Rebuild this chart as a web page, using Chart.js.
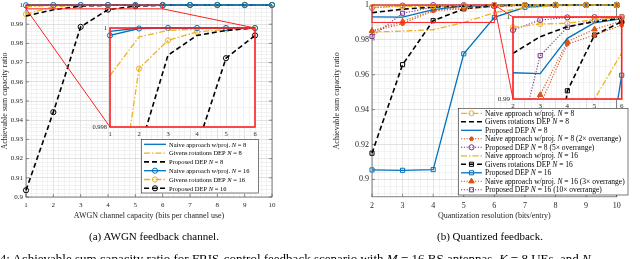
<!DOCTYPE html>
<html>
<head>
<meta charset="utf-8">
<script src="https://cdn.jsdelivr.net/npm/chart.js@4.4.1/dist/chart.umd.min.js"></script>
<style>
  body { margin: 0; background: #fff; }
  #page { position: relative; width: 640px; height: 259px; overflow: hidden; background: #fff;
          font-family: "Liberation Serif", "DejaVu Serif", serif; color: #000; }
  canvas { position: absolute; }
  .cap { position: absolute; font-size: 11px; line-height: 12px; white-space: nowrap; transform: translateX(-50%); }
  .fig { position: absolute; left: -24px; top: 252px; font-size: 13px; line-height: 13px; white-space: nowrap; }
</style>
</head>
<body>
<div id="page">
  <canvas id="mainA" width="290" height="259" style="left:0;top:0"></canvas>
  <canvas id="mainB" width="310" height="259" style="left:320px;top:0"></canvas>
  <canvas id="zoomA" width="185" height="125" style="left:80px;top:18px"></canvas>
  <canvas id="zoomB" width="150" height="110" style="left:480px;top:6px"></canvas>
  <div class="cap" style="left:154px;top:230px">(a) AWGN feedback channel.</div>
  <div class="cap" style="left:490px;top:230px">(b) Quantized feedback.</div>
  <div class="fig">Fig. 4: Achievable sum capacity ratio for FRIS-control feedback scenario with <i>M</i> = 16 BS antennas, <i>K</i> = 8 UEs, and <i>N</i></div>
</div>
<script>
// (a) AWGN feedback channel
const capA = [1, 2, 3, 4, 5, 6, 7, 8, 9, 10];
const naiveA8   = [0.99993, 1, 1, 1, 1, 1, 1, 1, 1, 1];
const givensA8  = [0.99904, 0.99982, 0.99995, 0.99998, 1, 1, 1, 1, 1, 1];
const propA8    = [0.9943, 0.9975, 0.99945, 0.99985, 0.99995, 1, 1, 1, 1, 1];
const naiveA16  = [0.99985, 0.99999, 1, 1, 1, 1, 1, 1, 1, 1];
const givensA16 = [0.9952, 0.99918, 0.99975, 0.99992, 0.99997, 0.99999, 1, 1, 1, 1];
const propA16   = [0.9035, 0.9442, 0.9886, 0.9976, 0.99939, 0.99985, 1, 1, 1, 1];

// (b) Quantized feedback
const resB = [2, 3, 4, 5, 6, 7, 8, 9, 10];
const naiveB8     = [0.99874, 0.99915, 0.99923, 0.9997, 0.99996, 1, 1, 1, 1];
const givensB8    = [0.99557, 0.9976, 0.99882, 0.99943, 0.99984, 1, 1, 1, 1];
const propB8      = [0.9932, 0.9931, 0.9974, 0.9993, 0.9998, 1, 1, 1, 1];
const naiveB8x2   = [0.9848, 0.9893, 0.9967, 0.9978, 0.999, 0.9997, 1, 1, 1];
const propB8x5    = [0.99841, 0.99963, 0.99995, 0.99998, 1, 1, 1, 1, 1];
const naiveB16    = [0.9845, 0.985, 0.9858, 0.99, 0.9956, 0.9985, 0.9995, 0.9999, 1];
const givensB16   = [0.915, 0.9658, 0.991, 0.9978, 0.99943, 1, 1, 1, 1];
const propB16     = [0.9054, 0.9052, 0.9056, 0.972, 0.9929, 0.9987, 0.9998, 1, 1];
const naiveB16x3  = [0.9852, 0.9905, 0.997, 0.9985, 0.9995, 0.9999, 1, 1, 1];
const propB16x10  = [0.982, 0.99528, 0.99874, 0.99963, 1, 1, 1, 1, 1];

const SERIF = '"Liberation Serif", "DejaVu Serif", serif';
const BLUE = '#0072BD', GOLD = '#EDB120', SALMON = '#D95319', PURPLE = '#7E2F8E', BLACK = '#000000';
const SOLID = [], DASH = [5, 3], DASHDOT = [6, 2, 1.5, 2], DOT = [1.2, 1.6];
const MARKERS = {
  'o': { style: 'circle', r: 2.6, fill: false },
  's': { style: 'rect', r: 2.9, fill: false },
  '^': { style: 'triangle', r: 3.2, fill: true },
  '.': { style: 'circle', r: 1.9, fill: true }
};

const seriesA = [
  { label: 'Naive approach w/proj. N = 8', ys: naiveA8, color: BLUE, dash: SOLID },
  { label: 'Givens rotations DEP N = 8', ys: givensA8, color: GOLD, dash: DASHDOT },
  { label: 'Proposed DEP N = 8', ys: propA8, color: BLACK, dash: DASH },
  { label: 'Naive approach w/proj. N = 16', ys: naiveA16, color: BLUE, dash: SOLID, marker: 'o' },
  { label: 'Givens rotations DEP N = 16', ys: givensA16, color: GOLD, dash: DASHDOT, marker: 'o' },
  { label: 'Proposed DEP N = 16', ys: propA16, color: BLACK, dash: DASH, marker: 'o' }
];
const seriesB = [
  { label: 'Naive approach w/proj. N = 8', ys: naiveB8, color: GOLD, dash: DASHDOT, marker: 'o' },
  { label: 'Givens rotations DEP N = 8', ys: givensB8, color: BLACK, dash: DASH },
  { label: 'Proposed DEP N = 8', ys: propB8, color: BLUE, dash: SOLID },
  { label: 'Naive approach w/proj. N = 8 (2\u00d7 overrange)', ys: naiveB8x2, color: SALMON, dash: DOT, marker: '.' },
  { label: 'Proposed DEP N = 8 (5\u00d7 overrange)', ys: propB8x5, color: PURPLE, dash: DOT, marker: 'o' },
  { label: 'Naive approach w/proj. N = 16', ys: naiveB16, color: GOLD, dash: DASHDOT },
  { label: 'Givens rotations DEP N = 16', ys: givensB16, color: BLACK, dash: DASH, marker: 's' },
  { label: 'Proposed DEP N = 16', ys: propB16, color: BLUE, dash: SOLID, marker: 's' },
  { label: 'Naive approach w/proj. N = 16 (3\u00d7 overrange)', ys: naiveB16x3, color: SALMON, dash: DOT, marker: '^' },
  { label: 'Proposed DEP N = 16 (10\u00d7 overrange)', ys: propB16x10, color: PURPLE, dash: DOT, marker: 's' }
];

function datasets(specs, xs, count) {
  return specs.map(s => {
    const m = s.marker ? MARKERS[s.marker] : null;
    return {
      label: s.label,
      data: xs.slice(0, count).map((x, i) => ({ x: x, y: s.ys[i] })),
      borderColor: s.color,
      borderWidth: s.dash === DOT ? 1.1 : (s.dash === DASH ? 1.6 : 1.3),
      borderDash: s.dash,
      pointStyle: m ? m.style : 'circle',
      pointRadius: m ? m.r : 0,
      pointBorderWidth: 1,
      pointBorderColor: s.color,
      pointBackgroundColor: m && m.fill ? s.color : 'rgba(0,0,0,0)',
      fill: false,
      tension: 0,
      clip: { left: 6, top: 6, right: 6, bottom: 0 }
    };
  });
}

function stepList(min, max, step) {
  const out = [];
  const i0 = Math.ceil(min / step - 1e-6), i1 = Math.floor(max / step + 1e-6);
  for (let i = i0; i <= i1; i++) out.push({ value: +(i * step).toFixed(6) });
  return out;
}
function onStep(v, step) {
  const q = v / step;
  return Math.abs(q - Math.round(q)) < 1e-4;
}
function fmt(v) { return String(+v.toFixed(4)); }

function axis(o) {
  return {
    type: 'linear', min: o.min, max: o.max,
    afterBuildTicks: s => { s.ticks = stepList(o.min, o.max, o.minor); },
    afterFit: s => {
      if (o.width) s.width = o.width;
      if (o.height) s.height = o.height;
      s.paddingTop = 0; s.paddingBottom = 0; s.paddingLeft = 0; s.paddingRight = 0;
    },
    ticks: {
      autoSkip: false, maxRotation: 0, padding: o.pad, color: '#262626',
      font: { family: SERIF, size: o.font },
      callback: v => onStep(v, o.major) ? fmt(v) : ''
    },
    grid: {
      drawTicks: false, lineWidth: 0.7,
      color: c => (c.tick && onStep(c.tick.value, o.major)) ? '#d6d6d6' : '#ececec'
    },
    border: { display: false },
    title: o.title
      ? { display: true, text: o.title, color: '#262626', padding: 0, font: { family: SERIF, size: o.titleSize } }
      : { display: false }
  };
}

const framePlugin = {
  id: 'frame',
  beforeDraw(chart, args, o) {
    if (!o.fill) return;
    const a = chart.chartArea, ctx = chart.ctx;
    ctx.save();
    ctx.fillStyle = o.fill;
    ctx.fillRect(a.left, a.top, a.width, a.height);
    ctx.restore();
  },
  beforeDatasetsDraw(chart, args, o) {
    if (!o.onTop) drawFrame(chart, o);
  },
  afterDatasetsDraw(chart, args, o) {
    if (o.onTop) drawFrame(chart, o);
  }
};
function drawFrame(chart, o) {
  const a = chart.chartArea, ctx = chart.ctx;
  const xs = chart.scales.x, ys = chart.scales.y;
  ctx.save();
  ctx.strokeStyle = o.color;
  if (o.tickLen) {
    ctx.lineWidth = 0.6;
    ctx.beginPath();
    xs.ticks.forEach(t => {
      if (!onStep(t.value, o.xMajor)) return;
      const p = xs.getPixelForValue(t.value);
      ctx.moveTo(p, a.bottom); ctx.lineTo(p, a.bottom - o.tickLen);
      ctx.moveTo(p, a.top); ctx.lineTo(p, a.top + o.tickLen);
    });
    ys.ticks.forEach(t => {
      if (!onStep(t.value, o.yMajor)) return;
      const p = ys.getPixelForValue(t.value);
      ctx.moveTo(a.left, p); ctx.lineTo(a.left + o.tickLen, p);
      ctx.moveTo(a.right, p); ctx.lineTo(a.right - o.tickLen, p);
    });
    ctx.stroke();
  }
  ctx.lineWidth = o.width;
  ctx.strokeRect(a.left, a.top, a.width, a.height);
  ctx.restore();
}

const zoomMarksPlugin = {
  id: 'zoomMarks',
  afterDatasetsDraw(chart, args, o) {
    const xs = chart.scales.x, ys = chart.scales.y, ctx = chart.ctx;
    const box = {
      l: xs.getPixelForValue(o.x0), r: xs.getPixelForValue(o.x1),
      t: ys.getPixelForValue(o.y1), b: ys.getPixelForValue(o.y0)
    };
    const inset = Chart.getChart(o.inset);
    const ia = inset.chartArea;
    const dx = inset.canvas.offsetLeft - chart.canvas.offsetLeft;
    const dy = inset.canvas.offsetTop - chart.canvas.offsetTop;
    ctx.save();
    ctx.strokeStyle = o.color;
    ctx.lineWidth = o.width;
    ctx.strokeRect(box.l, box.t, box.r - box.l, box.b - box.t);
    ctx.beginPath();
    o.links.forEach(link => {
      const from = link[0], to = link[1];
      ctx.moveTo(from[1] === 'l' ? box.l : box.r, from[0] === 't' ? box.t : box.b);
      ctx.lineTo(dx + (to[1] === 'l' ? ia.left : ia.right), dy + (to[0] === 't' ? ia.top : ia.bottom));
    });
    ctx.stroke();
    ctx.restore();
  }
};

const legendPlugin = {
  id: 'legendBox',
  afterDraw(chart, args, o) {
    const ctx = chart.ctx;
    ctx.save();
    ctx.fillStyle = '#fff';
    ctx.fillRect(o.x, o.y, o.w, o.h);
    ctx.strokeStyle = '#262626';
    ctx.lineWidth = 0.6;
    ctx.strokeRect(o.x, o.y, o.w, o.h);
    chart.data.datasets.forEach((ds, i) => {
      const y = o.first + i * o.row;
      ctx.strokeStyle = ds.borderColor;
      ctx.lineWidth = ds.borderWidth;
      ctx.setLineDash(ds.borderDash);
      ctx.beginPath();
      ctx.moveTo(o.x0, y);
      ctx.lineTo(o.x1, y);
      ctx.stroke();
      ctx.setLineDash([]);
      if (ds.pointRadius > 0) {
        ctx.lineWidth = ds.pointBorderWidth;
        ctx.fillStyle = ds.pointBackgroundColor;
        Chart.helpers.drawPoint(ctx, { pointStyle: ds.pointStyle, rotation: 0, radius: ds.pointRadius, borderWidth: ds.pointBorderWidth }, (o.x0 + o.x1) / 2, y);
      }
      // label with italic N
      const k = ds.label.indexOf(' N = ');
      const parts = [[ds.label.slice(0, k + 1), ''], ['N', 'italic '], [ds.label.slice(k + 2), '']];
      let tx = o.tx;
      ctx.fillStyle = '#000';
      ctx.textBaseline = 'middle';
      parts.forEach(p => {
        ctx.font = p[1] + o.font + 'px ' + SERIF;
        ctx.fillText(p[0], tx, y + 0.5);
        tx += ctx.measureText(p[0]).width;
      });
    });
    ctx.restore();
  }
};

function makeChart(id, sets, xAxis, yAxis, padding, plugins, pluginOpts) {
  return new Chart(document.getElementById(id), {
    type: 'line',
    data: { datasets: sets },
    options: {
      responsive: false,
      animation: false,
      events: [],
      layout: { padding: padding },
      scales: { x: xAxis, y: yAxis },
      plugins: Object.assign({ legend: { display: false }, tooltip: { enabled: false } }, pluginOpts)
    },
    plugins: plugins
  });
}

// insets first, the main charts link to them
makeChart('zoomA', datasets(seriesA, capA, 6),
  axis({ min: 1, max: 6, minor: 0.2, major: 1, font: 6.5, pad: 3, height: 12 }),
  axis({ min: 0.998, max: 1, minor: 0.0004, major: 0.002, font: 6.5, pad: 3, width: 30 }),
  { left: 0, right: 10, top: 10, bottom: 4 },
  [framePlugin],
  { frame: { fill: '#ffffff', color: '#FF2020', width: 1.6, tickLen: 0, onTop: true } });

makeChart('zoomB', datasets(seriesB, resB, 5),
  axis({ min: 2, max: 6, minor: 0.2, major: 1, font: 7, pad: 3, height: 12 }),
  axis({ min: 0.99, max: 1, minor: 0.002, major: 0.01, font: 7, pad: 3, width: 33 }),
  { left: 0, right: 8.3, top: 11, bottom: 5 },
  [framePlugin],
  { frame: { fill: '#ffffff', color: '#FF2020', width: 1.6, tickLen: 0, onTop: true } });

makeChart('mainA', datasets(seriesA, capA, capA.length),
  axis({ min: 1, max: 10, minor: 0.2, major: 1, font: 7, pad: 4, height: 23.5,
         title: 'AWGN channel capacity (bits per channel use)', titleSize: 8 }),
  axis({ min: 0.9, max: 1, minor: 0.002, major: 0.01, font: 7, pad: 3, width: 26,
         title: 'Achievable sum capacity ratio', titleSize: 8 }),
  { left: 0, right: 18, top: 3.5, bottom: 38.5 },
  [framePlugin, zoomMarksPlugin, legendPlugin],
  {
    frame: { color: '#4d4d4d', width: 0.7, tickLen: 3, xMajor: 1, yMajor: 0.01, onTop: false },
    zoomMarks: { inset: 'zoomA', x0: 1, x1: 6, y0: 0.998, y1: 1, color: '#FF2020', width: 1,
                 links: [['bl', 'bl'], ['br', 'tr']] },
    legendBox: { x: 141.5, y: 139.5, w: 117, h: 53.5, first: 144.3, row: 8.8, x0: 144, x1: 166, tx: 169, font: 6.5 }
  });

makeChart('mainB', datasets(seriesB, resB, resB.length),
  axis({ min: 2, max: 10, minor: 0.2, major: 1, font: 8, pad: 4, height: 23.5,
         title: 'Quantization resolution (bits/entry)', titleSize: 8 }),
  axis({ min: 0.89, max: 1, minor: 0.004, major: 0.02, font: 8, pad: 3, width: 40,
         title: 'Achievable sum capacity ratio', titleSize: 8 }),
  { left: 12, right: 13.3, top: 4.3, bottom: 38.7 },
  [framePlugin, zoomMarksPlugin, legendPlugin],
  {
    frame: { color: '#4d4d4d', width: 0.7, tickLen: 3, xMajor: 1, yMajor: 0.02, onTop: false },
    zoomMarks: { inset: 'zoomB', x0: 2, x1: 6, y0: 0.99, y1: 1, color: '#FF2020', width: 1,
                 links: [['tr', 'tl'], ['tr', 'bl']] },
    legendBox: { x: 138.5, y: 108.5, w: 169.5, h: 86.5, first: 113.3, row: 8.5, x0: 141, x1: 162, tx: 165, font: 7.5 }
  });
</script>
</body>
</html>
